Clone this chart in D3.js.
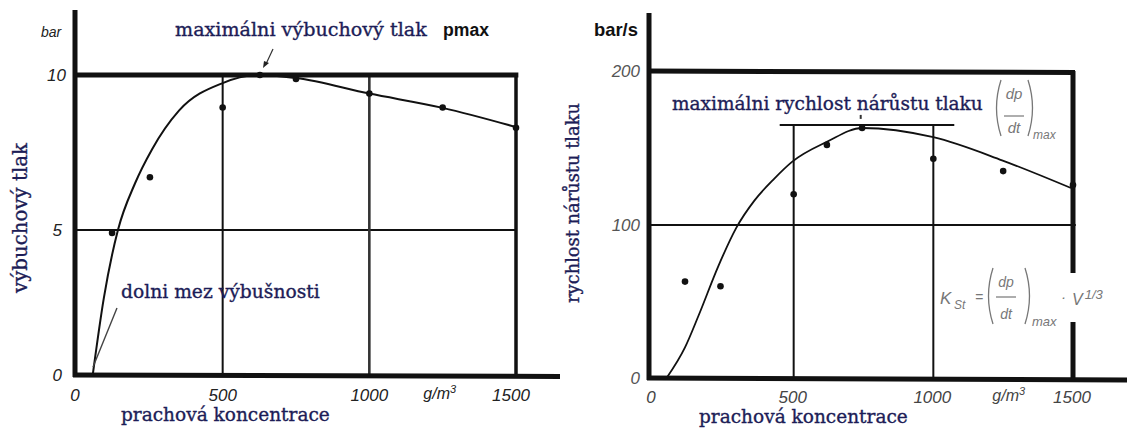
<!DOCTYPE html>
<html>
<head>
<meta charset="utf-8">
<script src="https://cdn.jsdelivr.net/npm/d3@7"></script>
<style>
  body { margin: 0; background: #fff; }
  svg { display: block; }
</style>
</head>
<body>
<svg id="chart" width="1128" height="429"></svg>
<script>
// values
const xTicks = [0, 500, 1000, 1500];
const leftYTicks = [0, 5, 10];
const rightYTicks = [0, 100, 200];

// left: explosion pressure (bar)
const leftPtsConc = [123, 252, 500, 627, 750, 1000, 1250, 1500];
const leftPtsVal = [4.9, 6.7, 8.95, 10, 9.87, 9.4, 8.95, 8.3];
const leftCurveConc = [57, 95, 143, 201, 259, 351, 500, 627, 750, 1000, 1250, 1500];
const leftCurveVal = [0, 2.66, 5.0, 6.5, 7.6, 8.85, 9.74, 10, 9.9, 9.4, 8.94, 8.32];

// right: rate of pressure rise (bar/s)
const rightPtsConc = [111, 238, 500, 619, 745, 1000, 1250, 1500];
const rightPtsVal = [63, 60, 120, 152, 163, 143, 135, 126];
const rightCurveConc = [45, 111, 160, 230, 294, 360, 430, 494, 619, 745, 1000, 1246, 1493];
const rightCurveVal = [0, 20, 41, 73, 98, 116, 130, 141, 154, 163, 157, 142, 124];
const rightMaxVal = 165;

const navy = "#1d1d57";
const serif = "'DejaVu Serif', serif";
const sans = "'Liberation Sans', Arial, sans-serif";

const svg = d3.select("#chart");
svg.append("rect").attr("width", 1128).attr("height", 429).attr("fill", "#fff");

// scan is a bit uneven, so the scales have a middle stop
const xL = d3.scaleLinear().domain([0, 1500]).range([76, 516]);
const yL = d3.scaleLinear().domain([0, 5, 10]).range([375, 230, 75]);
const xR = d3.scaleLinear().domain([0, 1500]).range([654, 1073]);
const yR = d3.scaleLinear().domain([0, 100, 200]).range([378, 225, 71]);

// make a text fit the width it has in the scan
function fit(t, w) {
  const l = t.node().getComputedTextLength();
  t.attr("font-size", parseFloat(t.attr("font-size")) * w / l);
  return t;
}

function seg(g, x1, y1, x2, y2, w, c) {
  g.append("line").attr("x1", x1).attr("y1", y1).attr("x2", x2).attr("y2", y2)
    .attr("stroke", c || "#111").attr("stroke-width", w);
}

// serif labels of the scan look heavy, thicken them a bit
function label(g, s, w) {
  return fit(g.append("text").attr("font-family", serif).attr("font-size", 16)
    .attr("fill", navy).attr("stroke", navy).attr("stroke-width", 0.35).text(s), w);
}

const line = (xs, ys) => d3.line().x(d => xs(d[0])).y(d => ys(d[1])).curve(d3.curveMonotoneX);

// ---------- left panel ----------
const gl = svg.append("g");

// grid
seg(gl, xL(0), yL(5), xL(1500), yL(5), 2);
[500, 1000].forEach(v => seg(gl, xL(v), yL(10), xL(v), yL(0), v == 1000 ? 2.6 : 2, v == 1000 ? "#333" : "#111"));
// frame
seg(gl, xL(1500), yL(10), xL(1500), yL(0) + 2, 3.5);
seg(gl, xL(0) - 1, yL(10), xL(1508), yL(10), 5);
seg(gl, xL(0) - 1, 10, xL(0) - 1, yL(0) + 2, 5);
seg(gl, xL(0) - 3, yL(0), 560, yL(0) + 1.5, 5);

gl.append("path")
  .attr("d", line(xL, yL)(leftCurveConc.map((c, i) => [c, leftCurveVal[i]])))
  .attr("fill", "none").attr("stroke", "#111").attr("stroke-width", 2);

gl.selectAll("circle.pt").data(leftPtsConc).join("circle")
  .attr("class", "pt")
  .attr("cx", d => xL(d)).attr("cy", (d, i) => yL(leftPtsVal[i]))
  .attr("r", 3.3).attr("fill", "#111");

// ticks
gl.selectAll("text.yt").data(leftYTicks).join("text")
  .attr("class", "yt")
  .attr("x", d => d == 10 ? 66 : 62).attr("y", d => yL(d) + 6)
  .attr("text-anchor", "end").attr("font-family", sans).attr("font-style", "italic")
  .attr("font-size", 17).attr("fill", "#222").text(d => d);
gl.selectAll("text.xt").data(xTicks).join("text")
  .attr("class", "xt")
  .attr("x", d => d == 0 ? 75 : d == 1500 ? xL(d) - 5 : xL(d)).attr("y", 401)
  .attr("text-anchor", "middle").attr("font-family", sans).attr("font-style", "italic")
  .attr("font-size", 17).attr("fill", "#222").text(d => d);
gl.append("text").attr("x", xL(1240)).attr("y", 399).attr("text-anchor", "middle")
  .attr("font-family", sans).attr("font-style", "italic").attr("font-size", 16).attr("fill", "#222")
  .text("g/m").append("tspan").attr("dy", -6).attr("font-size", 11).text("3");
gl.append("text").attr("x", 41).attr("y", 37).attr("font-family", sans).attr("font-style", "italic")
  .attr("font-size", 14).attr("fill", "#222").text("bar");

// labels
label(gl, "výbuchový tlak", 150).attr("transform", "translate(27,218) rotate(-90)").attr("text-anchor", "middle");
label(gl, "prachová koncentrace", 209).attr("x", 121).attr("y", 421);
label(gl, "maximálni výbuchový tlak", 252).attr("x", 175).attr("y", 36);
label(gl, "dolni mez výbušnosti", 199).attr("x", 121).attr("y", 298);
fit(gl.append("text").attr("x", 443).attr("y", 36)
  .attr("font-family", sans).attr("font-weight", "bold").attr("font-size", 16).attr("fill", "#111").text("pmax"), 46);

// pointers
seg(gl, 273, 49, 266, 64, 1.2, "#333");
gl.append("path").attr("d", "M263,68 L264,61 L269,63 Z").attr("fill", "#222");
seg(gl, 93, 367, 117, 308, 1.4, "#444");

// ---------- right panel ----------
const gr = svg.append("g");

seg(gr, xR(0) - 5, yR(100), xR(1510), yR(100), 2);
[500, 1000].forEach(v => seg(gr, xR(v), yR(rightMaxVal), xR(v), yR(0), 2));
seg(gr, xR(450), yR(rightMaxVal), xR(1075), yR(rightMaxVal), 2);
// frame, with the gap left for the formula
seg(gr, xR(1500), yR(200), xR(1500), 273, 5);
seg(gr, xR(1500), 322, xR(1500), yR(0) + 2, 5);
seg(gr, xR(0) - 7, yR(200), xR(1500) + 2, yR(200) + 1.5, 5);
seg(gr, xR(0) - 5, 13, xR(0) - 5, yR(0) + 2, 5);
seg(gr, xR(0) - 7, yR(0), 1127, yR(0) + 2, 5);

gr.append("path")
  .attr("d", line(xR, yR)(rightCurveConc.map((c, i) => [c, rightCurveVal[i]])))
  .attr("fill", "none").attr("stroke", "#111").attr("stroke-width", 1.8);

gr.selectAll("circle.pt").data(rightPtsConc).join("circle")
  .attr("class", "pt")
  .attr("cx", d => xR(d)).attr("cy", (d, i) => yR(rightPtsVal[i]))
  .attr("r", 3.3).attr("fill", "#111");
seg(gr, xR(740), yR(rightMaxVal) - 10, xR(740), yR(rightMaxVal) - 6, 2, "#333");

gr.selectAll("text.yt").data(rightYTicks).join("text")
  .attr("class", "yt")
  .attr("x", 640).attr("y", d => yR(d) + 6)
  .attr("text-anchor", "end").attr("font-family", sans).attr("font-style", "italic")
  .attr("font-size", 17).attr("fill", "#555").text(d => d);
gr.selectAll("text.xt").data(xTicks).join("text")
  .attr("class", "xt")
  .attr("x", d => d == 0 ? 651 : xR(d) - 1).attr("y", 403)
  .attr("text-anchor", "middle").attr("font-family", sans).attr("font-style", "italic")
  .attr("font-size", 17).attr("fill", "#444").text(d => d);
gr.append("text").attr("x", xR(1270)).attr("y", 401).attr("text-anchor", "middle")
  .attr("font-family", sans).attr("font-style", "italic").attr("font-size", 16).attr("fill", "#444")
  .text("g/m").append("tspan").attr("dy", -6).attr("font-size", 11).text("3");
fit(gr.append("text").attr("x", 594).attr("y", 36).attr("font-family", sans).attr("font-weight", "bold")
  .attr("font-size", 16).attr("fill", "#111").text("bar/s"), 44);

label(gr, "rychlost nárůstu tlaku", 200).attr("transform", "translate(579,203) rotate(-90)").attr("text-anchor", "middle");
label(gr, "prachová koncentrace", 209).attr("x", 699).attr("y", 423);
label(gr, "maximálni rychlost nárůstu tlaku", 311).attr("x", 672).attr("y", 110);

// (dp/dt)max next to the title, and the K_St formula
const grey = "#777";
function paren(g, x, y1, y2, dir) {
  const m = (y1 + y2) / 2;
  g.append("path").attr("d", `M${x},${y1} Q${x - dir * 9},${m} ${x},${y2}`)
    .attr("fill", "none").attr("stroke", grey).attr("stroke-width", 1.3);
}
function frac(g, cx, yTop, yLine, yBot, fs) {
  g.append("text").attr("x", cx).attr("y", yTop).attr("text-anchor", "middle").attr("font-family", sans)
    .attr("font-style", "italic").attr("font-size", fs).attr("fill", grey).text("dp");
  seg(g, cx - 10, yLine, cx + 10, yLine, 1.2, grey);
  g.append("text").attr("x", cx).attr("y", yBot).attr("text-anchor", "middle").attr("font-family", sans)
    .attr("font-style", "italic").attr("font-size", fs).attr("fill", grey).text("dt");
}
const it = (g, x, y, fs, s) => g.append("text").attr("x", x).attr("y", y).attr("font-family", sans)
  .attr("font-style", "italic").attr("font-size", fs).attr("fill", grey).text(s);

paren(gr, 1001, 80, 136, 1);
frac(gr, 1014, 99, 116, 133, 15);
paren(gr, 1028, 80, 136, -1);
it(gr, 1033, 139, 12, "max");

it(gr, 940, 304, 17, "K");
it(gr, 954, 309, 12, "St");
it(gr, 975, 302, 14, "=");
paren(gr, 993, 268, 324, 1);
frac(gr, 1006, 287, 297, 319, 14);
paren(gr, 1025, 268, 324, -1);
it(gr, 1032, 326, 13, "max");
it(gr, 1061, 302, 15, "·");
it(gr, 1072, 305, 16, "V").append("tspan").attr("dx", 2).attr("dy", -6).attr("font-size", 13).text("1/3");
</script>
</body>
</html>
